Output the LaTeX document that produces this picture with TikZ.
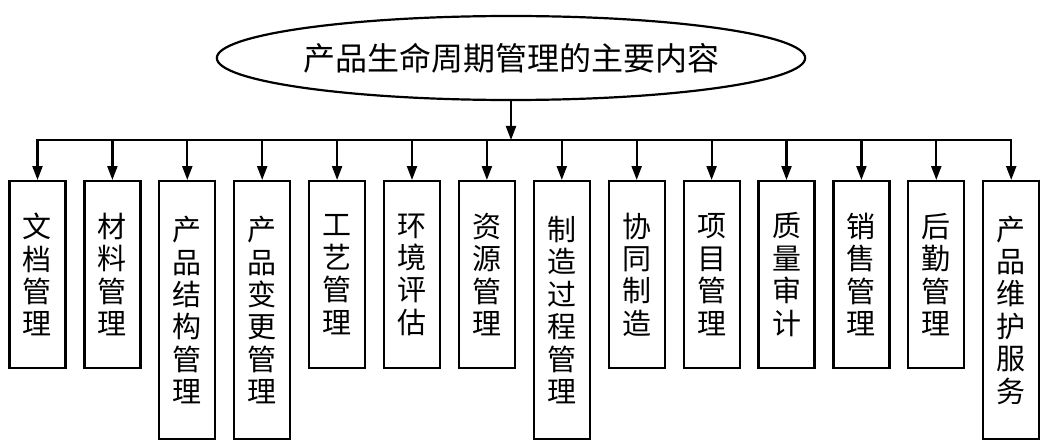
\documentclass[tikz,border=0pt]{standalone}
\usepackage{fontspec}
\newfontfamily\cjk{Noto Sans CJK SC}
\usetikzlibrary{shapes.geometric,arrows.meta}
\begin{document}
\begin{tikzpicture}[x=1pt,y=-1pt,
  lw/.style={line width=2.2pt},
  itembox/.style={draw, lw, rectangle, minimum width=56pt, inner sep=0pt,
    anchor=north, align=center, font=\cjk\fontsize{29}{32.4}\selectfont},
  shortbox/.style={itembox, minimum height=187pt},
  longbox/.style={itembox, minimum height=258pt},
  rootnode/.style={ellipse, draw, lw, minimum width=573pt, minimum height=84pt,
    inner sep=0pt, font=\cjk\fontsize{32}{34}\selectfont},
  link/.style={lw, -{Triangle[length=14pt,width=10pt]}},
  barline/.style={lw, line cap=rect}
]
\useasboundingbox (0,0) rectangle (1049,441);
\node[rootnode] (root) at (511,58) {产品生命周期管理的主要内容};
\coordinate (bar) at (511,140);

\node[shortbox] (b1)  at (37.5,180)  {文\\档\\管\\理};
\node[shortbox] (b2)  at (112.4,180) {材\\料\\管\\理};
\node[longbox]  (b3)  at (187.3,180) {产\\品\\结\\构\\管\\理};
\node[longbox]  (b4)  at (262.2,180) {产\\品\\变\\更\\管\\理};
\node[shortbox] (b5)  at (337.1,180) {工\\艺\\管\\理};
\node[shortbox] (b6)  at (412.0,180) {环\\境\\评\\估};
\node[shortbox] (b7)  at (486.9,180) {资\\源\\管\\理};
\node[longbox]  (b8)  at (561.8,180) {制\\造\\过\\程\\管\\理};
\node[shortbox] (b9)  at (636.7,180) {协\\同\\制\\造};
\node[shortbox] (b10) at (711.6,180) {项\\目\\管\\理};
\node[shortbox] (b11) at (786.5,180) {质\\量\\审\\计};
\node[shortbox] (b12) at (861.4,180) {销\\售\\管\\理};
\node[shortbox] (b13) at (936.3,180) {后\\勤\\管\\理};
\node[longbox]  (b14) at (1011.2,180) {产\\品\\维\\护\\服\\务};

\draw[link] (root.south) -- (bar);
\draw[barline] (bar -| b1.north) -- (bar -| b14.north);
\foreach \i in {1,...,14} {
  \draw[link] (bar -| b\i.north) -- (b\i.north);
}
\end{tikzpicture}
\end{document}
